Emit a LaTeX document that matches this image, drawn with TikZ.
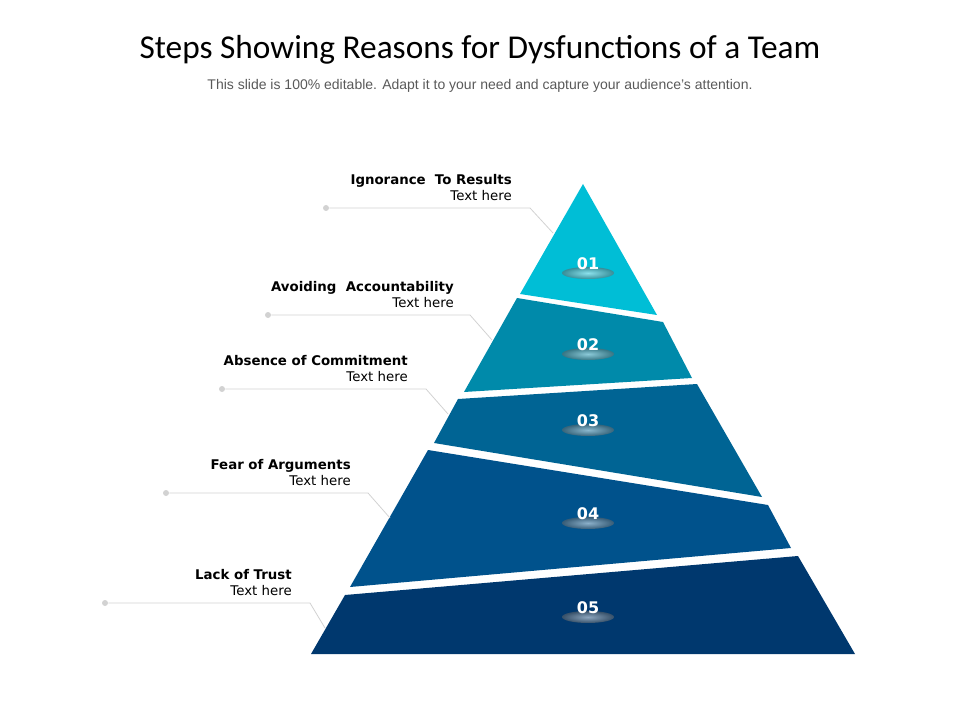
\documentclass[tikz,border=0pt]{standalone}
\usepackage{fontspec}
\setmainfont{Carlito}
\newfontfamily\arialf{Liberation Sans}
\newfontfamily\verdf{DejaVu Sans}
\usetikzlibrary{positioning,calc}
\definecolor{stepA}{RGB}{0,190,214}
\definecolor{stepB}{RGB}{0,138,170}
\definecolor{stepC}{RGB}{0,100,148}
\definecolor{stepD}{RGB}{0,82,140}
\definecolor{stepE}{RGB}{0,56,110}
\definecolor{leadgray}{RGB}{210,210,210}
\tikzset{
  numlabel/.style={text=white, font=\verdf\bfseries\fontsize{12}{14}\selectfont, inner sep=0pt},
  headlabel/.style={anchor=south east, align=right, inner sep=0pt, font=\verdf\fontsize{10}{12}\selectfont},
  leaddot/.style={circle, fill=leadgray, inner sep=0pt, minimum size=4.5pt},
  leadline/.style={draw=leadgray, line width=0.6pt},
  shine/.style={inner color=white, outer color=white!40!black, opacity=0.55}
}
\begin{document}
\begin{tikzpicture}[x=0.75pt,y=-0.75pt]
\useasboundingbox (0,0) rectangle (960,720);
% title
\node[font=\fontsize{25}{30}\selectfont] (title) at (480,50) {Steps Showing Reasons for Dysfunctions of a Team};
\node[font=\arialf\fontsize{10.5}{12}\selectfont, text=black!65] (sub) at (480,86) {This slide is 100\% editable. Adapt it to your need and capture your audience’s attention.};
% pyramid bands
\fill[stepA] (583,184) -- (657,315) -- (520,294) -- cycle;
\fill[stepB] (517,298) -- (663,322) -- (692,378) -- (464,392) -- cycle;
\fill[stepC] (458,399) -- (697,384) -- (762,497) -- (434,443) -- cycle;
\fill[stepD] (428,450) -- (768,505) -- (791,548) -- (350,587) -- cycle;
\fill[stepE] (345,595) -- (798,556) -- (855,654) -- (311,654) -- cycle;
% numbers
\foreach \n/\y in {01/264,02/345,03/421,04/514,05/608}{
  \shade[shine] (588,\y+9) ellipse (26 and 6);
  \node[numlabel] (num\n) at (588,\y) {\n};
}
% labels and leaders
\foreach \i/\rx/\ty/\dx/\ex/\tip/\ttl in {
  1/512/201/326/530/553/{Ignorance\ \ To Results},
  2/454/308/268/470/492/{Avoiding\ \ Accountability},
  3/408/382/222/426/448/{Absence of Commitment},
  4/351/486/166/368/390/{Fear of Arguments},
  5/292/596/105/310/325/{Lack of Trust}}{
  \node[headlabel] (lab\i) at (\rx,\ty) {\textbf{\ttl}\\Text here};
  \node[leaddot] (dot\i) at (\dx,\ty+7) {};
  \coordinate (bend\i) at (\ex,\ty+7);
  \coordinate (end\i) at (\tip,\ty+32);
  \draw[leadline] (dot\i) -- (bend\i) -- (end\i);
}
\end{tikzpicture}
\end{document}
